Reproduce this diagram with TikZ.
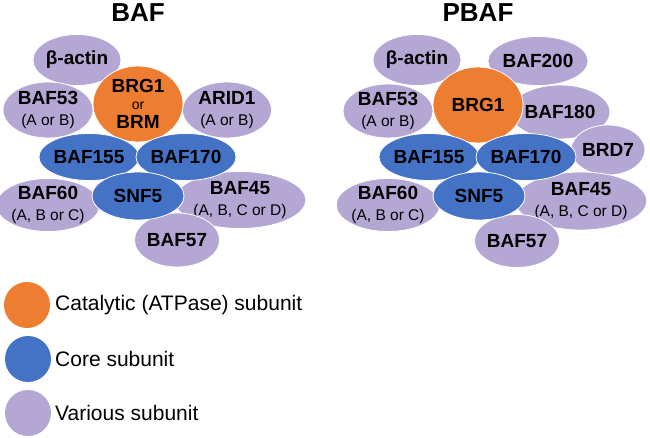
\documentclass[tikz,border=0pt]{standalone}
\usepackage{fontspec}
\setmainfont{Liberation Sans}
\usetikzlibrary{shapes.geometric}

\definecolor{Catalytic}{RGB}{237, 125, 49}
\definecolor{Core}{RGB}{68, 114, 196}
\definecolor{Various}{RGB}{180, 167, 212}

\newcommand{\variant}[1]{{\fontsize{15.5}{18}\selectfont\mdseries #1}}

\tikzset{
    sub/.style={ellipse, draw=white, line width=0.8pt, inner sep=0pt,
                align=center, font=\fontsize{19}{21}\selectfont\bfseries},
    various/.style={sub, fill=Various},
    core/.style={sub, fill=Core},
    catalytic/.style={sub, fill=Catalytic},
    title/.style={font=\fontsize{26}{28}\selectfont\bfseries},
    key/.style={circle, inner sep=0pt, minimum size=46},
    keytext/.style={anchor=west, inner sep=0pt, font=\fontsize{21}{24}\selectfont}
}

\begin{document}
\begin{tikzpicture}[x=1pt, y=-1pt]
    \useasboundingbox (0,0) rectangle (650,437);

    % BAF complex
    \node[title] (bafTitle) at (138,13) {BAF};
    \node[various, minimum width=77, minimum height=51] (bafActin) at (77,60) {β-actin};
    \node[various, minimum width=90, minimum height=56] (bafA) at (48,110) {BAF53\\\variant{(A or B)}};
    \node[various, minimum width=89, minimum height=56] (bafArid) at (227,110) {ARID1\\\variant{(A or B)}};
    \node[various, minimum width=90, minimum height=51] (bafSixty) at (48,205) {BAF60\\\variant{(A, B or C)}};
    \node[various, minimum width=114, minimum height=57] (bafFortyFive) at (240,200) {BAF45\\\variant{(A, B, C or D)}};
    \node[various, minimum width=77, minimum height=54] (bafFiftySeven) at (177,240) {BAF57};
    \node[catalytic, minimum width=90, minimum height=76] (bafBrg) at (138,104) {BRG1\\[-4pt]{\fontsize{14}{14}\selectfont\mdseries or}\\[-2pt]BRM};
    \node[core, minimum width=92, minimum height=47] (bafOne) at (89,157) {BAF155};
    \node[core, minimum width=93, minimum height=47] (bafTwo) at (186,157) {BAF170};
    \node[core, minimum width=92, minimum height=48] (bafSnf) at (138,196) {SNF5};

    % PBAF complex
    \node[title] (pbafTitle) at (478,13) {PBAF};
    \node[various, minimum width=77, minimum height=51] (pbafActin) at (417,60) {β-actin};
    \node[various, minimum width=77, minimum height=49] (pbafTwoHundred) at (538,61) {BAF200};
    \node[various, minimum width=90, minimum height=54] (pbafA) at (388,111) {BAF53\\\variant{(A or B)}};
    \node[various, minimum width=77, minimum height=54] (pbafEighty) at (560,112) {BAF180};
    \node[various, minimum width=74, minimum height=50] (pbafBrd) at (608,150) {BRD7};
    \node[various, minimum width=90, minimum height=51] (pbafSixty) at (388,205) {BAF60\\\variant{(A, B or C)}};
    \node[various, minimum width=114, minimum height=58] (pbafFortyFive) at (581,201) {BAF45\\\variant{(A, B, C or D)}};
    \node[various, minimum width=76, minimum height=53] (pbafFiftySeven) at (517,241) {BAF57};
    \node[catalytic, minimum width=90, minimum height=76] (pbafBrg) at (478,105) {BRG1};
    \node[core, minimum width=92, minimum height=47] (pbafOne) at (429,157) {BAF155};
    \node[core, minimum width=93, minimum height=47] (pbafTwo) at (526,157) {BAF170};
    \node[core, minimum width=92, minimum height=48] (pbafSnf) at (479,196) {SNF5};

    % legend
    \node[key, fill=Catalytic] (keyCat) at (27,305) {};
    \node[key, fill=Core] (keyCore) at (28,359) {};
    \node[key, fill=Various] (keyVar) at (28,413) {};
    \node[keytext] (keyCatText) at (55,305) {Catalytic (ATPase) subunit};
    \node[keytext] (keyCoreText) at (55,359) {Core subunit};
    \node[keytext] (keyVarText) at (55,413) {Various subunit};
\end{tikzpicture}
\end{document}
